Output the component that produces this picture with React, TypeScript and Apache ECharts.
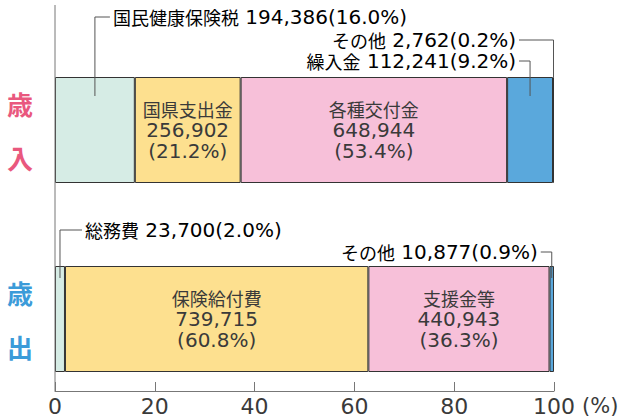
import React, { useEffect, useRef } from "react";
import * as echarts from "echarts";

// ---- data ----
const categories = ["歳入", "歳出"];
const revenueNames = ["国民健康保険税", "国県支出金", "各種交付金", "繰入金", "その他"];
const revenueAmounts = [194386, 256902, 648944, 112241, 2762];
const revenuePercents = [16.0, 21.2, 53.4, 9.2, 0.2];
const expenditureNames = ["総務費", "保険給付費", "支援金等", "その他"];
const expenditureAmounts = [23700, 739715, 440943, 10877];
const expenditurePercents = [2.0, 60.8, 36.3, 0.9];
const xTicks = [0, 20, 40, 60, 80, 100];

// ---- styles / layout ----
const revenueColors = ["#d6ece5", "#fde08f", "#f7c0d9", "#5aa8dc", "#5aa8dc"];
const expenditureColors = ["#d6ece5", "#fde08f", "#f7c0d9", "#5aa8dc"];
const revenueInside = [false, true, true, false, false];
const expenditureInside = [false, true, true, false];
const catColors = ["#e9587e", "#3b9bd9"];

const W = 623;
const H = 419;
const GRID_LEFT = 55;
const GRID_RIGHT = 69;
const GRID_TOP = 35.5;
const GRID_HEIGHT = 378;
const X_AXIS_OFFSET = -22.5;
const BAR_WIDTH = 106;
const AXIS_TOP = 5;

const CJK_FONT = '"Noto Sans CJK JP", sans-serif';
const NUM_FONT = '"DejaVu Sans", "Noto Sans CJK JP", sans-serif';
const TEXT = "#3a3a3a";
const LEADER = "#555";

const rich = {
  c: { fontFamily: CJK_FONT, fontSize: 18, color: TEXT, lineHeight: 21 },
  n: { fontFamily: NUM_FONT, fontSize: 20, color: TEXT, lineHeight: 21 },
};

const fmt = (n: number) => n.toLocaleString("en-US");

// annotation layout (outside labels with leader lines)
const annotations = [
  { group: 0, index: 0, side: "right", labelY: 17, elbow: 15, dip: 19 },
  { group: 0, index: 4, side: "left", labelY: 40, elbow: 34.5, dip: 0 },
  { group: 0, index: 3, side: "left", labelY: 61, elbow: 11, dip: 19 },
  { group: 1, index: 0, side: "right", labelY: 230, elbow: 22, dip: 12 },
  { group: 1, index: 3, side: "left", labelY: 252, elbow: 11, dip: 12 },
];

export default function App() {
  const ref = useRef<HTMLDivElement>(null);

  useEffect(() => {
    if (!ref.current) return;
    const chart = echarts.init(ref.current, null, { renderer: "svg" });

    const groups = [
      { names: revenueNames, amounts: revenueAmounts, pcts: revenuePercents, colors: revenueColors, inside: revenueInside },
      { names: expenditureNames, amounts: expenditureAmounts, pcts: expenditurePercents, colors: expenditureColors, inside: expenditureInside },
    ];

    const series: any[] = [];
    groups.forEach((g, gi) => {
      g.names.forEach((name, i) => {
        const data = categories.map((_, ci) => (ci === gi ? g.pcts[i] : "-"));
        series.push({
          name: categories[gi] + name,
          type: "bar",
          stack: "total",
          barWidth: BAR_WIDTH,
          data,
          itemStyle: { color: g.colors[i], borderColor: "#333", borderWidth: 1 },
          label: {
            show: g.inside[i],
            position: "inside",
            formatter: `{c|${name}}\n{n|${fmt(g.amounts[i])}}\n{n|(${g.pcts[i].toFixed(1)}%)}`,
            rich,
          },
        });
      });
    });

    chart.setOption({
      animation: false,
      grid: { left: GRID_LEFT, right: GRID_RIGHT, top: GRID_TOP, height: GRID_HEIGHT },
      xAxis: {
        type: "value",
        min: 0,
        max: 100,
        interval: 20,
        offset: X_AXIS_OFFSET,
        axisLine: { show: true, lineStyle: { color: "#777", width: 1 } },
        axisTick: { show: true, inside: true, length: 9, lineStyle: { color: "#777" } },
        splitLine: { show: false },
        axisLabel: {
          fontFamily: NUM_FONT,
          fontSize: 22,
          color: TEXT,
          margin: 4,
          formatter: (v: number) => (xTicks.includes(v) ? String(v) : ""),
        },
      },
      yAxis: {
        type: "category",
        inverse: true,
        data: categories,
        axisLine: { show: false },
        axisTick: { show: false },
        axisLabel: {
          margin: 35,
          align: "center",
          formatter: (v: string) => {
            const key = categories.indexOf(v) === 0 ? "r" : "b";
            return v.split("").map((ch) => `{${key}|${ch}}`).join("\n");
          },
          rich: {
            r: { color: catColors[0], fontSize: 26, fontWeight: "bold", lineHeight: 54, fontFamily: CJK_FONT },
            b: { color: catColors[1], fontSize: 26, fontWeight: "bold", lineHeight: 54, fontFamily: CJK_FONT },
          },
        },
      },
      series,
    });

    const toPx = (v: number, cat: string) =>
      chart.convertToPixel({ gridIndex: 0 }, [v, cat]) as number[];

    const axisY = GRID_TOP + GRID_HEIGHT + X_AXIS_OFFSET;
    const x0 = toPx(0, categories[0])[0];
    const x100 = toPx(100, categories[0])[0];

    const graphics: any[] = [
      {
        type: "line",
        shape: { x1: x0, y1: AXIS_TOP, x2: x0, y2: axisY },
        style: { stroke: "#777", lineWidth: 1 },
        z: 10,
        silent: true,
      },
      {
        type: "text",
        x: x100 + 28,
        y: axisY + 4,
        style: { text: "(%)", fontFamily: NUM_FONT, fontSize: 21, fill: TEXT, align: "left", verticalAlign: "top" },
        silent: true,
      },
    ];

    annotations.forEach((a) => {
      const g = groups[a.group];
      const cat = categories[a.group];
      const start = g.pcts.slice(0, a.index).reduce((s, v) => s + v, 0);
      const mid = start + g.pcts[a.index] / 2;
      const [ax, cy] = toPx(mid, cat);
      const barTop = cy - BAR_WIDTH / 2;
      const ex = a.side === "right" ? ax + a.elbow : ax - a.elbow;
      graphics.push({
        type: "polyline",
        shape: { points: [[ax, barTop + a.dip], [ax, a.labelY], [ex, a.labelY]] },
        style: { stroke: LEADER, lineWidth: 1, fill: "none" },
        z: 20,
        silent: true,
      });
      graphics.push({
        type: "text",
        x: a.side === "right" ? ex + 3 : ex - 3,
        y: a.labelY,
        style: {
          text: `{c|${g.names[a.index]}}{n| ${fmt(g.amounts[a.index])}(${g.pcts[a.index].toFixed(1)}%)}`,
          rich,
          align: a.side === "right" ? "left" : "right",
          verticalAlign: "middle",
        },
        z: 20,
        silent: true,
      });
    });

    chart.setOption({ graphic: graphics });

    return () => chart.dispose();
  }, []);

  return (
    <div
      ref={ref}
      style={{ position: "fixed", left: 0, top: 0, width: W, height: H, background: "#fff" }}
    />
  );
}
